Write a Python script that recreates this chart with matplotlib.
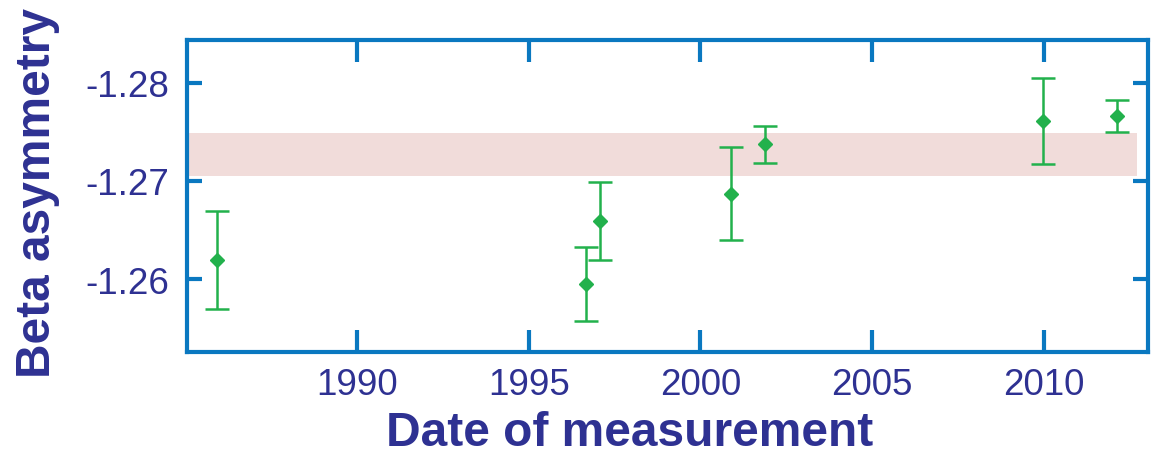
import matplotlib
matplotlib.use("Agg")
import matplotlib.pyplot as plt

years = [1985.92, 1996.67, 1997.07, 2000.89, 2001.88, 2009.97, 2012.13]
values = [-1.2619, -1.2595, -1.2659, -1.2687, -1.2737, -1.2761, -1.2766]
errors = [0.0050, 0.0038, 0.0040, 0.0047, 0.0019, 0.0044, 0.0016]

# world average band
band_low = -1.2749
band_high = -1.2705
band_start = 1985.05
band_end = 2012.7

x_ticks = [1990, 1995, 2000, 2005, 2010]
y_ticks = [-1.28, -1.27, -1.26]

spine_blue = "#0a78c0"
text_navy = "#2e3192"
green = "#22b14c"
band_color = "#f1dcda"

plt.rcParams["font.family"] = ["Liberation Sans", "DejaVu Sans"]

fig = plt.figure(figsize=(11.59, 4.56), dpi=100)
ax = fig.add_axes([0.1613, 0.2259, 0.8292, 0.6842])

ax.fill_between([band_start, band_end], band_low, band_high,
                color=band_color, lw=0, zorder=1)

ax.errorbar(years, values, yerr=errors, fmt="D", color=green,
            markersize=7.5, elinewidth=1.8, capsize=8.5, capthick=1.8, zorder=3)

ax.set_xlim(1985.05, 2013.03)
ax.set_ylim(-1.25257, -1.28433)  # inverted axis
ax.set_xticks(x_ticks)
ax.set_yticks(y_ticks)
ax.set_yticklabels([f"{v:.2f}" for v in y_ticks])

for s in ax.spines.values():
    s.set_color(spine_blue)
    s.set_linewidth(3)

ax.tick_params(axis="x", direction="in", length=16, width=3, color=spine_blue,
               top=True, labelsize=26.5, labelcolor=text_navy, pad=11)
ax.tick_params(axis="y", direction="in", length=11, width=3, color=spine_blue,
               right=True, labelsize=26.5, labelcolor=text_navy, pad=13)

ax.set_xlabel("Date of measurement", fontsize=34.5, fontweight="bold",
              color=text_navy)
ax.set_ylabel("Beta asymmetry", fontsize=34.5, fontweight="bold",
              color=text_navy)
ax.xaxis.set_label_coords(0.461, -0.185)
ax.yaxis.set_label_coords(-0.132, 0.513)

fig.savefig("out.png", dpi=100)
